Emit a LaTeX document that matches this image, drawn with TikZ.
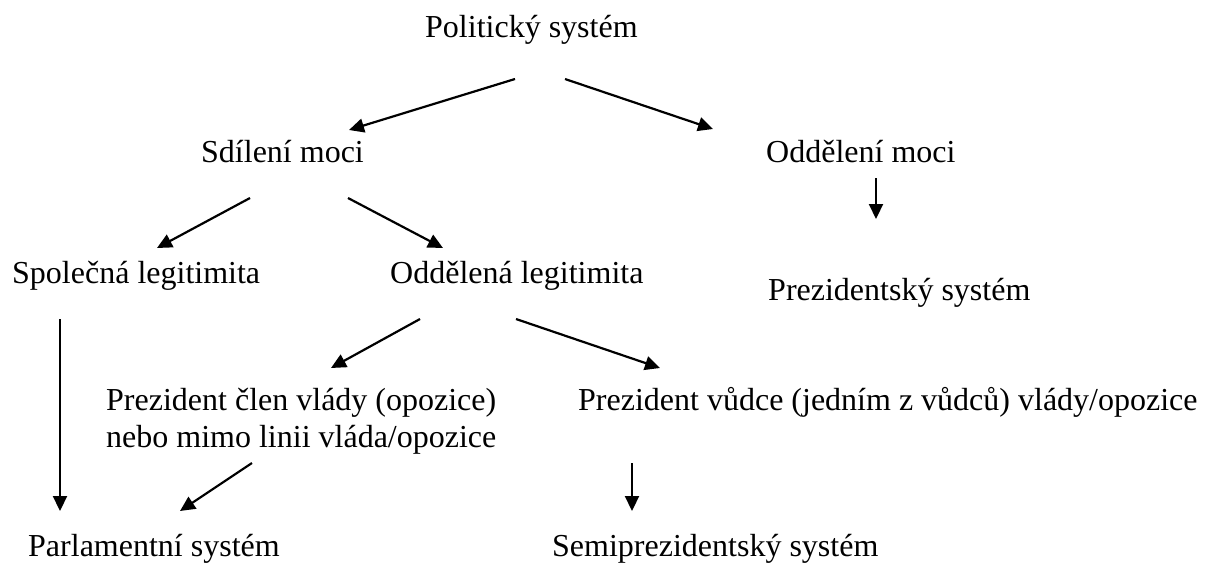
\documentclass[tikz,border=0pt]{standalone}
\usepackage{fontspec}
\setmainfont{Liberation Serif}
\usetikzlibrary{arrows.meta}
\tikzset{
  lbl/.style={anchor=base west, inner sep=0pt, font=\fontsize{32}{36.8}\selectfont},
  arr/.style={line width=2.2pt, -{Triangle[length=15pt,width=14pt]}}
}
\begin{document}
\begin{tikzpicture}[x=1pt,y=-1pt]
\useasboundingbox (0,0) rectangle (1210,565);
\node[lbl] (pol) at (425,37) {Politický systém};
\node[lbl] (sdil) at (201,162) {Sdílení moci};
\node[lbl] (oddm) at (766,162) {Oddělení moci};
\node[lbl] (spol) at (12,283) {Společná legitimita};
\node[lbl] (oddl) at (390,283) {Oddělená legitimita};
\node[lbl] (prezs) at (768,300) {Prezidentský systém};
\node[lbl, align=left] (clen) at (106,447) {Prezident člen vlády (opozice)\\nebo mimo linii vláda/opozice};
\node[lbl] (vudce) at (578,410) {Prezident vůdce (jedním z vůdců) vlády/opozice};
\node[lbl] (parl) at (28,556) {Parlamentní systém};
\node[lbl] (semi) at (552,556) {Semiprezidentský systém};

\coordinate (a1s) at (515,79);
\coordinate (a1e) at (349,130);
\coordinate (a2s) at (565,79);
\coordinate (a2e) at (713,129);
\coordinate (a3s) at (250,198);
\coordinate (a3e) at (157,248);
\coordinate (a4s) at (348,198);
\coordinate (a4e) at (443,248);
\coordinate (a5s) at (876,178);
\coordinate (a5e) at (876,219);
\coordinate (a6s) at (60,319);
\coordinate (a6e) at (60,511);
\coordinate (a7s) at (420,319);
\coordinate (a7e) at (331,368);
\coordinate (a8s) at (516,319);
\coordinate (a8e) at (660,368);
\coordinate (a9s) at (252,463);
\coordinate (a9e) at (180,511);
\coordinate (a10s) at (632,463);
\coordinate (a10e) at (632,511);

\draw[arr] (a1s) -- (a1e);
\draw[arr] (a2s) -- (a2e);
\draw[arr] (a3s) -- (a3e);
\draw[arr] (a4s) -- (a4e);
\draw[arr] (a5s) -- (a5e);
\draw[arr] (a6s) -- (a6e);
\draw[arr] (a7s) -- (a7e);
\draw[arr] (a8s) -- (a8e);
\draw[arr] (a9s) -- (a9e);
\draw[arr] (a10s) -- (a10e);
\end{tikzpicture}
\end{document}
